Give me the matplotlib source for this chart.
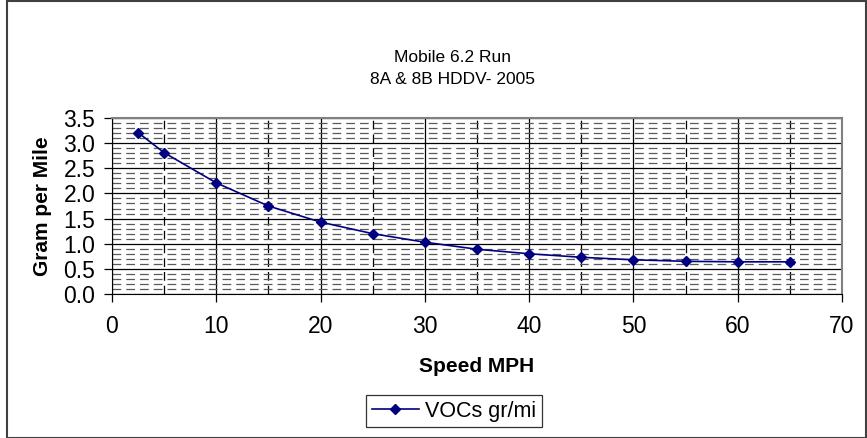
import matplotlib
matplotlib.use("Agg")
import matplotlib.pyplot as plt
from matplotlib.ticker import MultipleLocator
from matplotlib.patches import Rectangle

title_lines = ["Mobile 6.2 Run", "8A & 8B HDDV- 2005"]
speed_mph = [2.5, 5, 10, 15, 20, 25, 30, 35, 40, 45, 50, 55, 60, 65]
voc_gpm = [3.21, 2.81, 2.21, 1.75, 1.43, 1.20, 1.03, 0.89, 0.80, 0.73, 0.68, 0.65, 0.64, 0.64]
series_name = "VOCs gr/mi"
x_label = "Speed MPH"
y_label = "Gram per Mile"

plt.rcParams['font.family'] = ['Liberation Sans', 'DejaVu Sans']

fig = plt.figure(figsize=(8.67, 4.38), dpi=100)
ax = fig.add_axes([112/867, 1-294/438, (842-112)/867, (294-118)/438])

ax.plot(speed_mph, voc_gpm, color='#000080', lw=1.2, marker='D', ms=5.5,
        mfc='#000080', mec='#000080', label=series_name, zorder=5)

ax.set_xlim(0, 70)
ax.set_ylim(0, 3.5)
ax.xaxis.set_major_locator(MultipleLocator(10))
ax.xaxis.set_minor_locator(MultipleLocator(5))
ax.yaxis.set_major_locator(MultipleLocator(0.5))
ax.yaxis.set_minor_locator(MultipleLocator(0.1))
ax.yaxis.set_major_formatter(matplotlib.ticker.FormatStrFormatter('%.1f'))

ax.grid(which='major', axis='both', color='black', lw=0.9, ls='-')
ax.grid(which='minor', axis='y', color='#5a5a5a', lw=0.9, ls=(0, (7, 4)))
ax.grid(which='minor', axis='x', color='black', lw=0.9, ls=(0, (7, 4)))

ax.tick_params(which='major', direction='out', length=6, width=0.9, labelsize=16.5, pad=6)
ax.tick_params(axis='x', which='major', pad=9)
ax.tick_params(which='minor', length=0)
for s in ['left', 'bottom']:
    ax.spines[s].set_color('black')
for s in ['top', 'right']:
    ax.spines[s].set_color('#808080')
    ax.spines[s].set_linewidth(1.5)

ax.set_xlabel(x_label, fontsize=15, fontweight='bold', labelpad=14)
ax.set_ylabel(y_label, fontsize=15, fontweight='bold', labelpad=8)

fig.text(0.522, 1-58/438, title_lines[0], ha='center', va='center', fontsize=12.5)
fig.text(0.522, 1-80/438, title_lines[1], ha='center', va='center', fontsize=12.5)

leg = ax.legend(loc='center', bbox_to_anchor=(454/867, 1-411/438), bbox_transform=fig.transFigure,
                fontsize=15.5, frameon=True, fancybox=False, edgecolor='black',
                handlelength=2.2, borderpad=0.25, handletextpad=0.3)
leg.get_frame().set_linewidth(0.9)

fig.patches.append(Rectangle((7/867, 0.5/438), (866-7)/867, 436.5/438, transform=fig.transFigure,
                             fill=False, edgecolor='#404040', lw=1.5))

fig.savefig('out.png', dpi=100)
